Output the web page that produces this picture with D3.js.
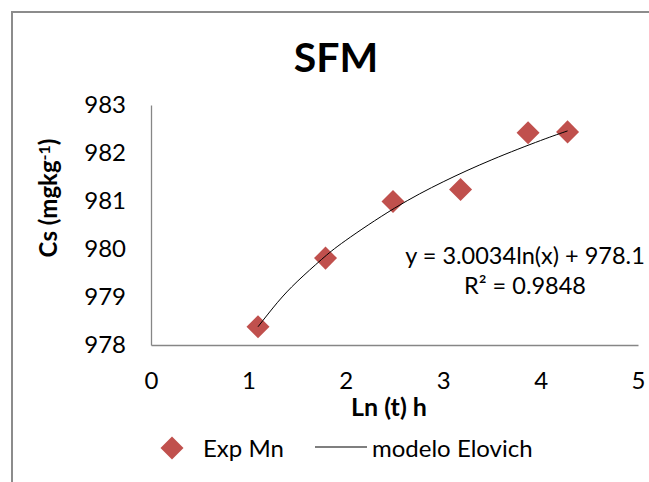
<!DOCTYPE html>
<html>
<head>
<meta charset="utf-8">
<script src="https://cdn.jsdelivr.net/npm/d3@7"></script>
<style>
    body { margin: 0; background: white; }
    text { font-family: Lato, "Open Sans", sans-serif; fill: #000; }
</style>
</head>
<body>
<div id="chart"></div>
<script>
"use strict";

// Measured points: ln(t) against Cs
var ln_t = [1.0986, 1.7918, 2.4849, 3.1781, 3.8712, 4.2767];
var cs_values = [978.38, 979.81, 980.99, 981.24, 982.42, 982.44];

// Elovich trend line
var trend_x = [1.0986, 1.3, 1.5, 1.75, 2.0, 2.5, 3.0, 3.5, 4.0, 4.2767];
var trend_y = [978.38, 978.89, 979.32, 979.78, 980.18, 980.85, 981.40, 981.86, 982.26, 982.46];

var x_ticks = [0, 1, 2, 3, 4, 5];
var y_ticks = [978, 979, 980, 981, 982, 983];

var title_text = "SFM";
var legend_labels = ["Exp Mn", "modelo Elovich"];
var equation_lines = ["y = 3.0034ln(x) + 978.1", "R\u00b2 = 0.9848"];

var width = 649;
var height = 482;
var margins = {top: 105, right: 11, bottom: 137, left: 151};
var plot_width = width - margins.left - margins.right;
var plot_height = height - margins.top - margins.bottom;

var marker_color = "#c0504d";
var axis_color = "#868686";

var svg = d3.select("#chart").append("svg")
    .attr("width", width)
    .attr("height", height);

// Outer chart frame, only left and top edges fall inside the window
svg.append("rect")
    .attr("x", 12)
    .attr("y", 12)
    .attr("width", width + 20)
    .attr("height", height + 20)
    .attr("fill", "white")
    .attr("stroke", "#8c8c8c")
    .attr("stroke-width", 2);

var x_scale = d3.scaleLinear()
    .domain([0, 5])
    .range([0, plot_width]);
var y_scale = d3.scaleLinear()
    .domain([978, 983])
    .range([plot_height, 0]);

var plot = svg.append("g")
    .attr("transform", "translate(" + margins.left + "," + margins.top + ")");

var x_axis = d3.axisBottom(x_scale).tickValues(x_ticks).tickFormat(d3.format("d"))
    .tickSize(0).tickPadding(27);
var y_axis = d3.axisLeft(y_scale).tickValues(y_ticks).tickFormat(d3.format("d"))
    .tickSize(0).tickPadding(25);

var gx = plot.append("g")
    .attr("transform", "translate(0," + plot_height + ")")
    .call(x_axis);
var gy = plot.append("g")
    .call(y_axis);

[gx, gy].forEach(function (g) {
    g.select(".domain").attr("stroke", axis_color).attr("stroke-width", 1.3);
    g.selectAll(".tick text")
        .style("font-family", "Lato, sans-serif")
        .style("font-size", "24px")
        .attr("fill", "#000");
});

// Diamond markers
var diamond = d3.symbol().type(d3.symbolSquare).size(265);

plot.selectAll(".marker")
    .data(d3.zip(ln_t, cs_values))
    .enter()
    .append("path")
    .attr("class", "marker")
    .attr("d", diamond)
    .attr("fill", marker_color)
    .attr("transform", function (d) {
        return "translate(" + x_scale(d[0]) + "," + y_scale(d[1]) + ") rotate(45)";
    });

// Trend line, drawn over the markers
var line = d3.line()
    .x(function (d) { return x_scale(d[0]); })
    .y(function (d) { return y_scale(d[1]); })
    .curve(d3.curveNatural);

plot.append("path")
    .datum(d3.zip(trend_x, trend_y))
    .attr("fill", "none")
    .attr("stroke", "#000")
    .attr("stroke-width", 1)
    .attr("d", line);

// Title
svg.append("text")
    .attr("x", 336)
    .attr("y", 72)
    .attr("text-anchor", "middle")
    .style("font-size", "41px")
    .style("font-weight", "bold")
    .text(title_text);

// Axis titles
svg.append("text")
    .attr("x", 389)
    .attr("y", 416)
    .attr("text-anchor", "middle")
    .style("font-size", "25px")
    .style("font-weight", "bold")
    .text("Ln (t) h");

var y_title = svg.append("text")
    .attr("transform", "translate(57,198) rotate(-90)")
    .attr("text-anchor", "middle")
    .style("font-size", "24px")
    .style("font-weight", "bold");
y_title.append("tspan").text("Cs (mgkg");
y_title.append("tspan").attr("dy", "-0.45em").style("font-size", "16px").text("-1");
y_title.append("tspan").attr("dy", "0.3em").text(")");

// Equation label (nudged left a little so it stays inside the window)
var eq = svg.append("g").attr("transform", "translate(525,0)");
eq.selectAll("text")
    .data(equation_lines)
    .enter()
    .append("text")
    .attr("x", 0)
    .attr("y", function (d, i) { return 264 + i * 30; })
    .attr("text-anchor", "middle")
    .style("font-size", "23.5px")
    .text(function (d) { return d; });

// Legend
var legend = svg.append("g");
legend.append("path")
    .attr("d", diamond)
    .attr("fill", marker_color)
    .attr("transform", "translate(172,448) rotate(45)");
legend.append("text")
    .attr("x", 203)
    .attr("y", 457)
    .style("font-size", "24px")
    .text(legend_labels[0]);
legend.append("line")
    .attr("x1", 315)
    .attr("x2", 367)
    .attr("y1", 447)
    .attr("y2", 447)
    .attr("stroke", "#000")
    .attr("stroke-width", 1.2);
legend.append("text")
    .attr("x", 372)
    .attr("y", 457)
    .style("font-size", "24px")
    .text(legend_labels[1]);
</script>
</body>
</html>
